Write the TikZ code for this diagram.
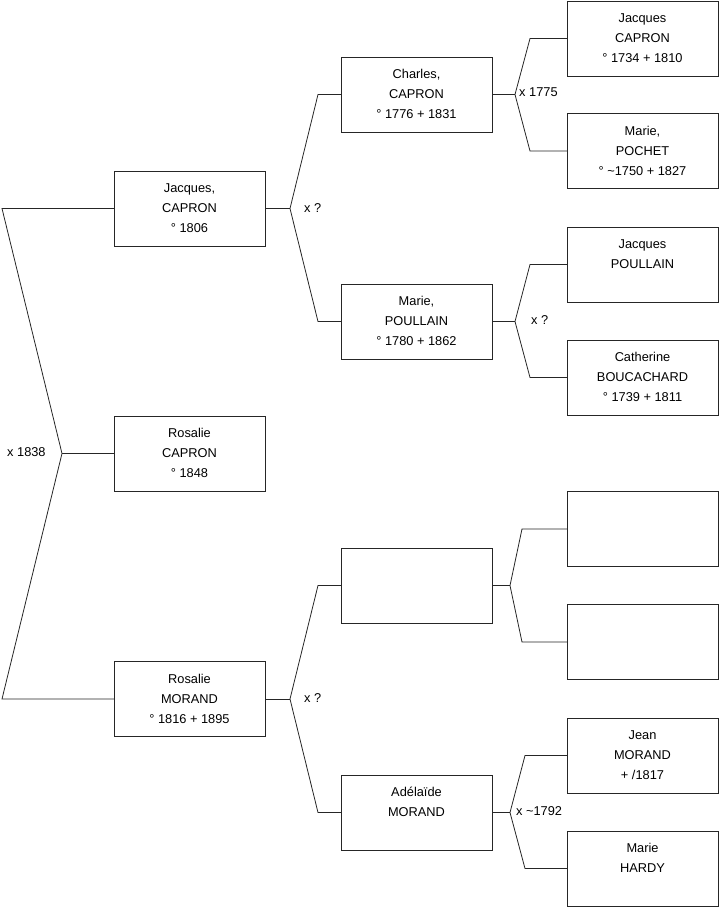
\documentclass[tikz,border=0pt]{standalone}
\usepackage{fontspec}
\setmainfont{Liberation Sans}
\newcommand{\pp}[1]{\raisebox{4pt}{\begin{tabular}{@{}c@{}}#1\end{tabular}}}
\begin{document}
\begin{tikzpicture}[x=1pt,y=-1pt,
  person/.style={draw=black!85,line width=0.8pt,minimum width=151pt,minimum height=75pt,inner sep=0pt,outer sep=0pt,align=center,font=\fontsize{12.8}{20}\selectfont},
  link/.style={draw=black!85,line width=0.8pt},
  lbl/.style={anchor=west,inner sep=0pt,font=\fontsize{12.8}{14}\selectfont}]
\useasboundingbox (0,0) rectangle (719,908);
% column 1
\node[person] (J) at (189.5,208.5) {\pp{Jacques,\\CAPRON\\° 1806}};
\node[person] (RC) at (189.5,453.5) {\pp{Rosalie\\CAPRON\\° 1848}};
\node[person] (RM) at (189.5,699) {\pp{Rosalie\\MORAND\\° 1816 + 1895}};
% column 2
\node[person] (C) at (416.5,94.5) {\pp{Charles,\\CAPRON\\° 1776 + 1831}};
\node[person] (MP) at (416.5,321.5) {\pp{Marie,\\POULLAIN\\° 1780 + 1862}};
\node[person] (E) at (416.5,585.5) {};
\node[person] (A) at (416.5,812.5) {\pp{Adélaïde\\MORAND\\~}};
% column 3
\node[person] (JC) at (642.5,38.5) {\pp{Jacques\\CAPRON\\° 1734 + 1810}};
\node[person] (MPO) at (642.5,151) {\pp{Marie,\\POCHET\\° \textasciitilde1750 + 1827}};
\node[person] (JP) at (642.5,264.5) {\pp{Jacques\\POULLAIN\\~}};
\node[person] (CB) at (642.5,377.5) {\pp{Catherine\\BOUCACHARD\\° 1739 + 1811}};
\node[person] (E1) at (642.5,529) {};
\node[person] (E2) at (642.5,642) {};
\node[person] (JM) at (642.5,755.5) {\pp{Jean\\MORAND\\+ /1817}};
\node[person] (MH) at (642.5,868.5) {\pp{Marie\\HARDY\\~}};
% fork vertices
\coordinate (r1) at (2,208.5);
\coordinate (r0) at (62,453.5);
\coordinate (r2) at (2,699);
\coordinate (j0) at (290,208.5);
\coordinate (j1) at (318,94.5);
\coordinate (j2) at (318,321.5);
\coordinate (m0) at (290,699);
\coordinate (m1) at (318,585.5);
\coordinate (m2) at (318,812.5);
\coordinate (c0) at (515,94.5);
\coordinate (c1) at (530,38.5);
\coordinate (c2) at (530,151);
\coordinate (p0) at (515,321.5);
\coordinate (p1) at (530,264.5);
\coordinate (p2) at (530,377.5);
\coordinate (e0) at (510,585.5);
\coordinate (e1) at (522,529);
\coordinate (e2) at (522,642);
\coordinate (a0) at (510,812.5);
\coordinate (a1) at (525,755.5);
\coordinate (a2) at (525,868.5);
% connectors
\draw[link] (J.west) -- (r1) -- (r0) -- (r2) -- (RM.west);
\draw[link] (r0) -- (RC.west);
\draw[link] (J.east) -- (j0);
\draw[link] (C.west) -- (j1) -- (j0) -- (j2) -- (MP.west);
\draw[link] (RM.east) -- (m0);
\draw[link] (E.west) -- (m1) -- (m0) -- (m2) -- (A.west);
\draw[link] (C.east) -- (c0);
\draw[link] (JC.west) -- (c1) -- (c0) -- (c2) -- (MPO.west);
\draw[link] (MP.east) -- (p0);
\draw[link] (JP.west) -- (p1) -- (p0) -- (p2) -- (CB.west);
\draw[link] (E.east) -- (e0);
\draw[link] (E1.west) -- (e1) -- (e0) -- (e2) -- (E2.west);
\draw[link] (A.east) -- (a0);
\draw[link] (JM.west) -- (a1) -- (a0) -- (a2) -- (MH.west);
% labels
\node[lbl] (l0) at (7,452) {x 1838};
\node[lbl] (l1) at (304,208) {x ?};
\node[lbl] (l2) at (304,698) {x ?};
\node[lbl] (l3) at (519,92) {x 1775};
\node[lbl] (l4) at (531,320) {x ?};
\node[lbl] (l5) at (516,811) {x \textasciitilde1792};
\end{tikzpicture}
\end{document}
